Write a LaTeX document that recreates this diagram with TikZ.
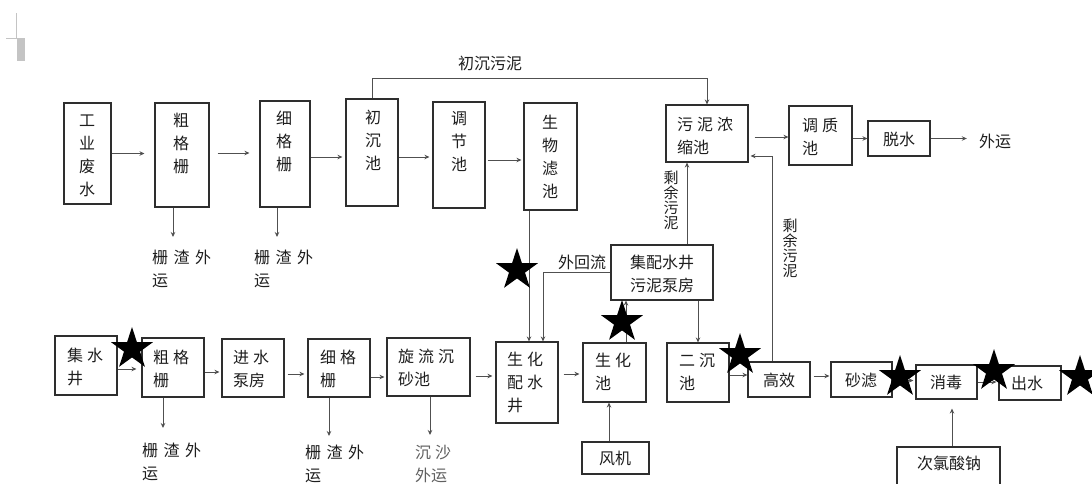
\documentclass[tikz,border=0pt]{standalone}
\usepackage{fontspec}
\newfontfamily\cjk{Noto Sans CJK SC}
\usetikzlibrary{shapes.geometric,arrows.meta}
\definecolor{boxc}{HTML}{2E2E2E}
\definecolor{linec}{HTML}{505050}
\definecolor{txtc}{HTML}{1E1E1E}
\definecolor{graytxt}{HTML}{606060}
\definecolor{artc}{HTML}{C4C4C4}
\newcommand\gp{\hspace{4pt}}
\newcommand\gw{\hspace{5.5pt}}
\begin{document}
\begin{tikzpicture}[x=1pt,y=-1pt,
  box/.style={draw=boxc, line width=1.1pt, inner sep=0pt, fill=white},
  txt/.style={inner sep=0pt, font=\cjk\fontsize{16}{23}\selectfont, text=txtc},
  vtxt/.style={inner sep=0pt, align=center, font=\cjk\fontsize{15}{15}\selectfont, text=txtc},
  arr/.style={draw=linec, line width=1pt, -{Stealth[length=5pt,width=4.5pt]}},
  ln/.style={draw=linec, line width=1pt},
  starn/.style={star, star points=5, star point ratio=2.618, fill=black, draw=none, minimum size=44pt, inner sep=0pt}]
\clip (0,0) rectangle (1092,483);
\fill[white] (0,0) rectangle (1092,483);
% cursor artefact
\draw[artc, line width=0.8pt] (16,13) -- (16,38) -- (6,38);
\fill[artc] (17,38) rectangle (25,61);

% ---------- top row ----------
\node[box, minimum width=47pt, minimum height=101pt] (gy) at (87.5,153.5) {};
\node[txt, align=center] (gyt) at (87,156) {工\\业\\废\\水};
\node[box, minimum width=54pt, minimum height=104pt] (cgs1) at (182,155) {};
\node[txt, align=center] (cgs1t) at (181,143) {粗\\格\\栅};
\node[box, minimum width=50pt, minimum height=106pt] (xgs1) at (285,154) {};
\node[txt, align=center] (xgs1t) at (284,141) {细\\格\\栅};
\node[box, minimum width=52pt, minimum height=107pt] (cc) at (372,152.5) {};
\node[txt, align=center] (cct) at (373,140) {初\\沉\\池};
\node[box, minimum width=52pt, minimum height=106pt] (tj) at (459,155) {};
\node[txt, align=center] (tjt) at (459,142) {调\\节\\池};
\node[box, minimum width=53pt, minimum height=107pt] (swlc) at (550.5,156.5) {};
\node[txt, align=center] (swlct) at (550,157) {生\\物\\滤\\池};
\node[box, minimum width=82pt, minimum height=57pt] (wn) at (707,133.5) {};
\node[txt, align=left, anchor=west] (wnt) at (677,135.5) {污\gp 泥\gp 浓\\缩池};
\node[box, minimum width=63pt, minimum height=59pt] (tz) at (820.5,135.5) {};
\node[txt, align=left, anchor=west] (tzt) at (802,136.5) {调\gp 质\\池};
\node[box, minimum width=62pt, minimum height=35pt] (ts) at (899,138.5) {};
\node[txt] (tst) at (899,139) {脱水};
\node[txt] (wy) at (995,141) {外运};

\node[txt, align=left, anchor=west] (zhz1) at (152,268.5) {栅\gw 渣\gw 外\\运};
\node[txt, align=left, anchor=west] (zhz2) at (254,268.5) {栅\gw 渣\gw 外\\运};
\node[txt] (cwn) at (490,63) {初沉污泥};
\node[txt] (whl) at (582,262) {外回流};
\node[vtxt] (syl1) at (671,200) {剩\\余\\污\\泥};
\node[vtxt] (syl2) at (790,248) {剩\\余\\污\\泥};

% ---------- middle / bottom row ----------
\node[box, minimum width=102pt, minimum height=55pt] (jpsj) at (662,272.5) {};
\node[txt, align=center] (jpsjt) at (662,274) {集配水井\\污泥泵房};

\node[box, minimum width=62pt, minimum height=59pt] (jsj) at (86,365.5) {};
\node[txt, align=left, anchor=west] (jsjt) at (67,366.5) {集\gp 水\\井};
\node[box, minimum width=62pt, minimum height=59pt] (cgs2) at (173,367.5) {};
\node[txt, align=left, anchor=west] (cgs2t) at (153,368.5) {粗\gp 格\\栅};
\node[box, minimum width=62pt, minimum height=58pt] (jsbf) at (253,368) {};
\node[txt, align=left, anchor=west] (jsbft) at (233,369) {进\gp 水\\泵房};
\node[box, minimum width=62pt, minimum height=58pt] (xgs2) at (339,368) {};
\node[txt, align=left, anchor=west] (xgs2t) at (320,368.5) {细\gp 格\\栅};
\node[box, minimum width=83pt, minimum height=58pt] (xlcs) at (428.5,367) {};
\node[txt, align=left, anchor=west] (xlcst) at (398,367.5) {旋\gp 流\gp 沉\\砂池};
\node[box, minimum width=62pt, minimum height=81pt] (shpsj) at (527,382.5) {};
\node[txt, align=left, anchor=west] (shpsjt) at (507,382) {生\gp 化\\配\gp 水\\井};
\node[box, minimum width=63pt, minimum height=59pt] (shc) at (614.5,372.5) {};
\node[txt, align=left, anchor=west] (shct) at (595,372) {生\gp 化\\池};
\node[box, minimum width=62pt, minimum height=59pt] (ecc) at (698,372.5) {};
\node[txt, align=left, anchor=west] (ecct) at (679,372) {二\gp 沉\\池};
\node[box, minimum width=67pt, minimum height=32pt] (fj) at (615.5,458) {};
\node[txt] (fjt) at (615,458) {风机};
\node[box, minimum width=62pt, minimum height=35pt] (gx) at (779,379.5) {};
\node[txt] (gxt) at (779,380) {高效};
\node[box, minimum width=61pt, minimum height=35pt] (sl) at (861.5,379.5) {};
\node[txt] (slt) at (861,380) {砂滤};
\node[box, minimum width=61pt, minimum height=34pt] (xd) at (946.5,382) {};
\node[txt] (xdt) at (946,382) {消毒};
\node[box, minimum width=62pt, minimum height=34pt] (cs) at (1030,383) {};
\node[txt] (cst) at (1027,383) {出水};
\node[box, minimum width=103pt, minimum height=50pt] (clsn) at (948.5,472) {};
\node[txt] (clsnt) at (949,463) {次氯酸钠};

\node[txt, align=left, anchor=west] (zhz3) at (142,462) {栅\gw 渣\gw 外\\运};
\node[txt, align=left, anchor=west] (zhz4) at (305,463.5) {栅\gw 渣\gw 外\\运};
\node[txt, align=left, anchor=west, text=graytxt] (cswy) at (415,464.5) {沉\gp 沙\\外运};

% ---------- free ends ----------
\coordinate (e1) at (173,237);
\coordinate (e2) at (277,237);
\coordinate (e3) at (163,428);
\coordinate (e4) at (329,436);
\coordinate (e5) at (430,435);
\coordinate (topline) at (0,78);

% ---------- connectors top ----------
\draw[arr, shorten >=10pt] (gy.east) -- (gy.east -| cgs1.west);
\draw[arr, shorten <=8pt, shorten >=10pt] ([yshift=2pt]cgs1.east) -- ([yshift=2pt]cgs1.east -| xgs1.west);
\draw[arr, shorten >=3pt] ([yshift=-3pt]xgs1.east) -- ([yshift=-3pt]xgs1.east -| cc.west);
\draw[arr, shorten >=3pt] ([yshift=-4.5pt]cc.east) -- ([yshift=-4.5pt]cc.east -| tj.west);
\draw[arr, shorten <=2pt, shorten >=2pt] ([yshift=-5pt]tj.east) -- ([yshift=-5pt]tj.east -| swlc.west);
\draw[arr] (cc.north) -- (cc.north |- topline) -| (wn.north);
\draw[arr, shorten <=6pt] ([yshift=-3.5pt]wn.east) -- ([yshift=-3.5pt]wn.east -| tz.west);
\draw[arr] (ts.west -| tz.east) -- (ts.west);
\draw[arr, shorten >=12pt] (ts.east) -- (ts.east -| wy.west);
\draw[arr] (cgs1.south -| e1) -- (e1);
\draw[arr] (xgs1.south -| e2) -- (e2);

% ---------- connectors middle ----------
\draw[arr] ([xshift=2pt]shpsj.north |- swlc.south) -- ([xshift=2pt]shpsj.north);
\draw[arr] (jpsj.west) -| ([xshift=16pt]shpsj.north);
\draw[arr] ([xshift=11.5pt]shc.north) -- ([xshift=11.5pt]shc.north |- jpsj.south);
\draw[arr] ([xshift=-20pt]wn.south |- jpsj.north) -- ([xshift=-20pt]wn.south);
\draw[arr] (jpsj.south -| ecc.north) -- (ecc.north);
\draw[arr, shorten >=2pt] ([xshift=-7pt]gx.north) |- ([yshift=-22.5pt]wn.east);

% ---------- connectors bottom ----------
\draw[arr, shorten >=5pt] ([yshift=-3.5pt]jsj.east) -- ([yshift=-3.5pt]jsj.east -| cgs2.west);
\draw[arr, shorten >=2pt] ([yshift=-4.5pt]cgs2.east) -- ([yshift=-4.5pt]cgs2.east -| jsbf.west);
\draw[arr, shorten <=3pt, shorten >=3pt] ([yshift=-6pt]jsbf.east) -- ([yshift=-6pt]jsbf.east -| xgs2.west);
\draw[arr, shorten >=2pt] ([yshift=-9pt]xgs2.east) -- ([yshift=-9pt]xgs2.east -| xlcs.west);
\draw[arr, shorten <=5pt, shorten >=3pt] ([yshift=-9pt]xlcs.east) -- ([yshift=-9pt]xlcs.east -| shpsj.west);
\draw[arr, shorten <=5pt, shorten >=3pt] ([yshift=8.5pt]shpsj.east) -- ([yshift=8.5pt]shpsj.east -| shc.west);
\draw[arr] ([yshift=-2.5pt]ecc.east) -- ([yshift=-2.5pt]ecc.east -| gx.west);
\draw[arr, shorten <=3pt, shorten >=1pt] ([yshift=3.5pt]gx.east) -- ([yshift=3.5pt]gx.east -| sl.west);
\draw[arr, shorten >=2pt] ([yshift=-1pt]sl.east) -- ([yshift=-1pt]sl.east -| xd.west);
\draw[arr, shorten >=2pt] ([yshift=0pt]xd.east) -- (xd.east -| cs.west);
\draw[arr] (cgs2.south -| e3) -- (e3);
\draw[arr] (xgs2.south -| e4) -- (e4);
\draw[arr] (xlcs.south -| e5) -- (e5);
\draw[arr] ([xshift=-6.5pt]fj.north) -- ([xshift=-6.5pt]fj.north |- shc.south);
\draw[arr, shorten >=9pt] ([xshift=3.5pt]clsn.north) -- ([xshift=3.5pt]clsn.north |- xd.south);

% ---------- stars ----------
\node[starn] (s1) at (132,349) {};
\node[starn] (s2) at (517,270) {};
\node[starn] (s3) at (622,322) {};
\node[starn] (s4) at (740,355) {};
\node[starn] (s5) at (900,377) {};
\node[starn] (s6) at (994,371) {};
\node[starn] (s7) at (1080,377) {};
\end{tikzpicture}
\end{document}
